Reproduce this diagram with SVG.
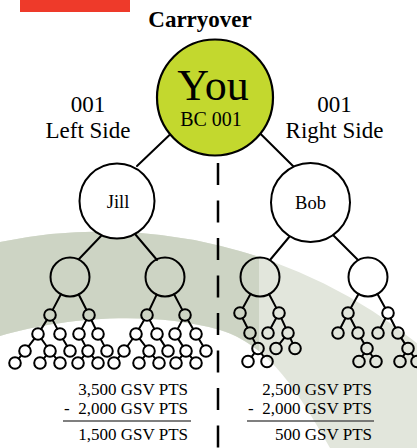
<svg xmlns="http://www.w3.org/2000/svg" width="417" height="448" viewBox="0 0 417 448">
<style>
.ser{font-family:"Liberation Serif","Times New Roman",serif;fill:#000}
.lbl{font-size:23px;text-anchor:middle}
.nm{font-size:18.5px;text-anchor:middle}
.pts{font-size:17px;text-anchor:end;white-space:pre}
.big{fill:#fff;stroke:#000;stroke-width:2}
.mid{fill:none;stroke:#000;stroke-width:2}
.sm circle{fill:none;stroke:#000;stroke-width:2}
.cn line{stroke:#000;stroke-width:2;stroke-linecap:round}
.rule{stroke:#555;stroke-width:1.5}
</style>
<defs>
<clipPath id="leftclip"><rect x="0" y="0" width="259" height="448"/></clipPath>
<path id="band" d="M0,242 A500,500 0 0 1 417,343.3 L417,448 L330,448 C300,395 270,345 220,330 C150,310 60,318 0,336 Z"/>
</defs>
<rect width="417" height="448" fill="#fff"/>
<use href="#band" fill="#e2e6dc"/>
<use href="#band" fill="#cdd4c4" clip-path="url(#leftclip)"/>
<rect x="20" y="0" width="110" height="12" fill="#ee3a2a"/>
<text class="ser" x="200" y="27" font-size="23" font-weight="bold" text-anchor="middle">Carryover</text>
<text class="ser lbl" x="88" y="112">001</text>
<text class="ser lbl" x="88" y="138">Left Side</text>
<text class="ser lbl" x="334.5" y="112">001</text>
<text class="ser lbl" x="334.5" y="138">Right Side</text>
<line x1="218" y1="163" x2="218" y2="448" stroke="#000" stroke-width="2.5" stroke-dasharray="22 15.5"/>
<g id="connectors" class="cn">
<line x1="169.5" y1="135" x2="137" y2="166"/>
<line x1="260.7" y1="134" x2="294" y2="167"/>
<line x1="101" y1="236" x2="79" y2="259"/>
<line x1="135" y1="234" x2="157" y2="260"/>
<line x1="290" y1="236" x2="270" y2="260"/>
<line x1="333" y1="235" x2="358" y2="260"/>
<line x1="60.92" y1="294.26" x2="52.70" y2="309.87"/>
<line x1="78.72" y1="294.44" x2="86.41" y2="309.81"/>
<line x1="46.90" y1="319.90" x2="41.10" y2="329.10"/>
<line x1="52.70" y1="320.13" x2="57.30" y2="328.87"/>
<line x1="86.30" y1="320.13" x2="81.70" y2="328.87"/>
<line x1="91.48" y1="320.24" x2="95.52" y2="328.76"/>
<line x1="34.48" y1="338.61" x2="28.52" y2="346.39"/>
<line x1="41.34" y1="338.74" x2="46.66" y2="346.26"/>
<line x1="62.94" y1="339.00" x2="67.06" y2="346.00"/>
<line x1="81.71" y1="339.13" x2="85.29" y2="345.87"/>
<line x1="100.71" y1="339.13" x2="104.29" y2="345.87"/>
<line x1="21.29" y1="355.45" x2="18.71" y2="358.55"/>
<line x1="46.29" y1="355.45" x2="43.71" y2="358.55"/>
<line x1="53.71" y1="355.45" x2="56.29" y2="358.55"/>
<line x1="84.29" y1="355.45" x2="81.71" y2="358.55"/>
<line x1="91.71" y1="355.45" x2="94.29" y2="358.55"/>
<line x1="156.65" y1="294.62" x2="149.48" y2="309.76"/>
<line x1="174.08" y1="294.26" x2="182.30" y2="309.87"/>
<line x1="144.09" y1="320.02" x2="138.91" y2="328.98"/>
<line x1="149.70" y1="320.13" x2="154.30" y2="328.87"/>
<line x1="182.30" y1="320.13" x2="177.70" y2="328.87"/>
<line x1="187.91" y1="320.02" x2="193.09" y2="328.98"/>
<line x1="132.66" y1="338.74" x2="127.34" y2="346.26"/>
<line x1="139.52" y1="338.61" x2="145.48" y2="346.39"/>
<line x1="160.15" y1="338.87" x2="164.85" y2="346.13"/>
<line x1="178.15" y1="338.87" x2="182.85" y2="346.13"/>
<line x1="198.94" y1="339.00" x2="203.06" y2="346.00"/>
<line x1="120.29" y1="355.45" x2="117.71" y2="358.55"/>
<line x1="145.29" y1="355.45" x2="142.71" y2="358.55"/>
<line x1="152.71" y1="355.45" x2="155.29" y2="358.55"/>
<line x1="182.29" y1="355.45" x2="179.71" y2="358.55"/>
<line x1="189.71" y1="355.45" x2="192.29" y2="358.55"/>
<line x1="250.53" y1="294.05" x2="242.82" y2="307.93"/>
<line x1="269.10" y1="294.24" x2="276.29" y2="307.87"/>
<line x1="242.59" y1="318.19" x2="247.41" y2="327.81"/>
<line x1="276.20" y1="318.08" x2="270.80" y2="327.92"/>
<line x1="281.38" y1="318.29" x2="285.62" y2="327.71"/>
<line x1="252.66" y1="338.15" x2="255.34" y2="343.35"/>
<line x1="284.45" y1="337.59" x2="279.55" y2="343.91"/>
<line x1="290.39" y1="338.29" x2="292.61" y2="343.21"/>
<line x1="254.46" y1="353.10" x2="251.54" y2="356.90"/>
<line x1="261.30" y1="353.27" x2="263.70" y2="356.73"/>
<line x1="358.53" y1="294.05" x2="350.82" y2="307.93"/>
<line x1="377.47" y1="294.05" x2="385.18" y2="307.93"/>
<line x1="345.41" y1="318.19" x2="340.59" y2="327.81"/>
<line x1="350.59" y1="318.19" x2="355.41" y2="327.81"/>
<line x1="385.41" y1="318.19" x2="380.59" y2="327.81"/>
<line x1="390.59" y1="318.19" x2="395.41" y2="327.81"/>
<line x1="360.91" y1="338.02" x2="364.09" y2="343.48"/>
<line x1="401.14" y1="337.87" x2="404.86" y2="343.63"/>
<line x1="363.96" y1="353.44" x2="362.04" y2="356.56"/>
<line x1="370.30" y1="353.27" x2="372.70" y2="356.73"/>
<line x1="404.96" y1="353.44" x2="403.04" y2="356.56"/>
<line x1="411.30" y1="353.27" x2="413.70" y2="356.73"/>
</g>
<g id="node-you">
<circle cx="215" cy="97.5" r="58" fill="#c3d82e" stroke="#000" stroke-width="2.2"/>
<text class="ser" x="213" y="100" font-size="44" text-anchor="middle">You</text>
<text class="ser" x="211" y="126" font-size="20" text-anchor="middle">BC 001</text>
</g>
<g id="node-jill">
<circle class="big" cx="117" cy="201" r="37.5"/>
<text class="ser nm" x="118" y="208">Jill</text>
</g>
<g id="node-bob">
<circle class="big" cx="310.5" cy="202.5" r="39.5"/>
<text class="ser nm" x="310.5" y="209">Bob</text>
</g>
<g id="node-l1"><circle class="mid" cx="70" cy="277" r="19.5"/></g>
<g id="node-l2"><circle class="mid" cx="165" cy="277" r="19.5"/></g>
<g id="node-r1"><circle class="mid" cx="260" cy="277" r="19.5"/></g>
<g id="node-r2"><circle class="mid" cx="368" cy="277" r="19.5"/></g>
<g id="tree-l1" class="sm">
<circle cx="50" cy="315" r="5.8"/><circle cx="89" cy="315" r="5.8"/>
<circle cx="38" cy="334" r="5.8"/><circle cx="60" cy="334" r="5.8"/><circle cx="79" cy="334" r="5.8"/><circle cx="98" cy="334" r="5.8"/>
<circle cx="25" cy="351" r="5.8"/><circle cx="50" cy="351" r="5.8"/><circle cx="70" cy="351" r="5.8"/><circle cx="88" cy="351" r="5.8"/><circle cx="107" cy="351" r="5.8"/>
<circle cx="15" cy="363" r="5.8"/><circle cx="40" cy="363" r="5.8"/><circle cx="60" cy="363" r="5.8"/><circle cx="78" cy="363" r="5.8"/><circle cx="98" cy="363" r="5.8"/>
</g>
<g id="tree-l2" class="sm">
<circle cx="147" cy="315" r="5.8"/><circle cx="185" cy="315" r="5.8"/>
<circle cx="136" cy="334" r="5.8"/><circle cx="157" cy="334" r="5.8"/><circle cx="175" cy="334" r="5.8"/><circle cx="196" cy="334" r="5.8"/>
<circle cx="124" cy="351" r="5.8"/><circle cx="149" cy="351" r="5.8"/><circle cx="168" cy="351" r="5.8"/><circle cx="186" cy="351" r="5.8"/><circle cx="206" cy="351" r="5.8"/>
<circle cx="114" cy="363" r="5.8"/><circle cx="139" cy="363" r="5.8"/><circle cx="159" cy="363" r="5.8"/><circle cx="176" cy="363" r="5.8"/><circle cx="196" cy="363" r="5.8"/>
</g>
<g id="tree-r1" class="sm">
<circle cx="240" cy="313" r="5.8"/><circle cx="279" cy="313" r="5.8"/>
<circle cx="250" cy="333" r="5.8"/><circle cx="268" cy="333" r="5.8"/><circle cx="288" cy="333" r="5.8"/>
<circle cx="258" cy="348.5" r="5.8"/><circle cx="276" cy="348.5" r="5.8"/><circle cx="295" cy="348.5" r="5.8"/>
<circle cx="248" cy="361.5" r="5.8"/><circle cx="267" cy="361.5" r="5.8"/>
</g>
<g id="tree-r2" class="sm">
<circle cx="348" cy="313" r="5.8"/><circle cx="388" cy="313" r="5.8"/>
<circle cx="338" cy="333" r="5.8"/><circle cx="358" cy="333" r="5.8"/><circle cx="378" cy="333" r="5.8"/><circle cx="398" cy="333" r="5.8"/>
<circle cx="367" cy="348.5" r="5.8"/><circle cx="408" cy="348.5" r="5.8"/>
<circle cx="359" cy="361.5" r="5.8"/><circle cx="376" cy="361.5" r="5.8"/><circle cx="400" cy="361.5" r="5.8"/><circle cx="417" cy="361.5" r="5.8"/>
</g>
<g id="totals-left">
<text class="ser pts" x="188" y="395">3,500 GSV PTS</text>
<text class="ser pts" x="188" y="414">-  2,000 GSV PTS</text>
<line class="rule" x1="63" y1="421" x2="191" y2="421"/>
<text class="ser pts" x="188" y="440">1,500 GSV PTS</text>
</g>
<g id="totals-right">
<text class="ser pts" x="372" y="395">2,500 GSV PTS</text>
<text class="ser pts" x="372" y="414">-  2,000 GSV PTS</text>
<line class="rule" x1="247" y1="421" x2="374" y2="421"/>
<text class="ser pts" x="372" y="440">500 GSV PTS</text>
</g>
</svg>
